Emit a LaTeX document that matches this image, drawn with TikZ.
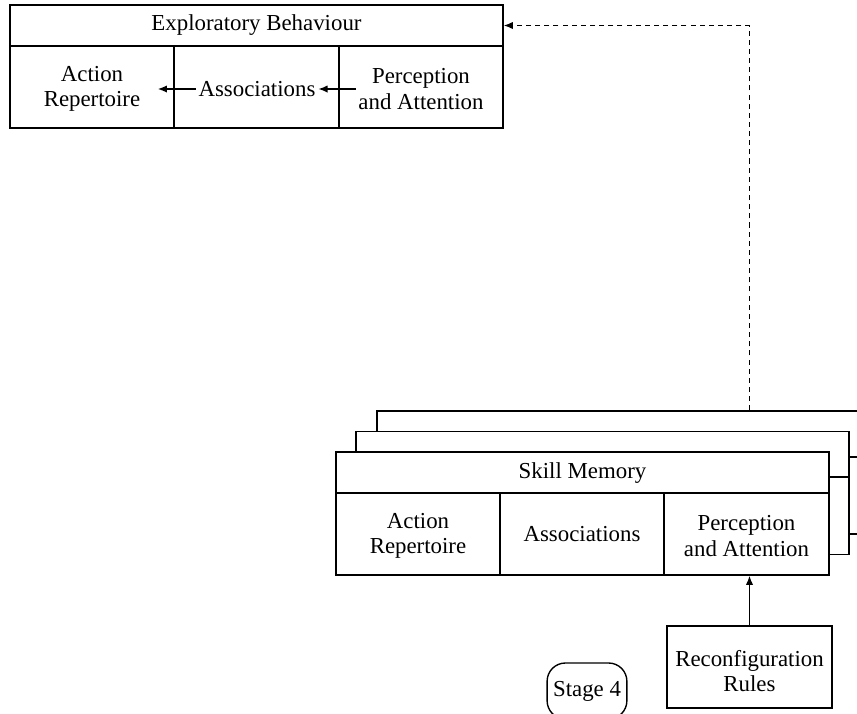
\documentclass[tikz,border=0pt]{standalone}
\usepackage{fontspec}
\setmainfont{Liberation Serif}
\usetikzlibrary{arrows.meta}
\begin{document}
\begin{tikzpicture}[x = 0.4376pt, y = -0.4376pt, line width = 0.6pt,
        font = \fontsize{10}{11}\selectfont,
        frame/.style = {draw, fill = white, inner sep = 0pt, minimum width = 493*0.4376pt, minimum height = 123*0.4376pt},
        hdr/.style = {draw, fill = white, inner sep = 0pt, minimum width = 493*0.4376pt, minimum height = 41*0.4376pt},
        txt/.style = {align = center, inner sep = 1pt},
        arr/.style = {-{Latex[length = 4pt, width = 3.2pt]}}]
        \useasboundingbox (0, 0) rectangle (857, 713);
        \clip (0, 0) rectangle (857, 713);

        % exploratory behaviour
        \node [hdr] (eb) at (256.5, 25.5) {Exploratory Behaviour};
        \draw (10, 46) rectangle (503, 128);
        \draw (174, 46) -- (174, 128);
        \draw (339, 46) -- (339, 128);
        \node [txt, text width = 55pt] (ar1) at (92, 89) {Action\\Repertoire};
        \node [txt] (as1) at (257, 89) {Associations};
        \node [txt] (pa1) at (421, 89) {Perception\\and Attention};
        \draw [arr] (pa1) -- (as1);
        \draw [arr] (as1) -- (ar1);

        % skill memory stack
        \node [frame] (bk) at (623.5, 472.5) {};
        \draw (bk.west |- 0, 457) -- (bk.east |- 0, 457);
        \node [frame] (md) at (602.5, 493) {};
        \draw (md.west |- 0, 477) -- (md.east |- 0, 477);
        \node [frame] (sm) at (582.5, 513.5) {};
        \node (smh) at (582.5, 473) {Skill Memory};
        \draw (336, 493) -- (829, 493);
        \draw (500, 493) -- (500, 575);
        \draw (664, 493) -- (664, 575);
        \node [txt] (ar2) at (418, 536) {Action\\Repertoire};
        \node [txt] (as2) at (582, 534) {Associations};
        \node [txt] (pa2) at (746.5, 536) {Perception\\and Attention};

        \node [draw, minimum width = 165*0.4376pt, minimum height = 82*0.4376pt] (rc) at (749.5, 667) {};
        \node [txt] (rct) at (749.5, 671) {Reconfiguration\\Rules};
        \draw [arr] (rc) -- (rc |- sm.south);
        \draw [arr, dash pattern = on 2.2pt off 1.8pt] (rc |- bk.north) |- (eb.east);

        \node [draw, rounded corners = 8pt, inner sep = 2.6pt, minimum height = 56*0.4376pt] (st) at (587, 691) {Stage 4};
    \end{tikzpicture}
\end{document}
